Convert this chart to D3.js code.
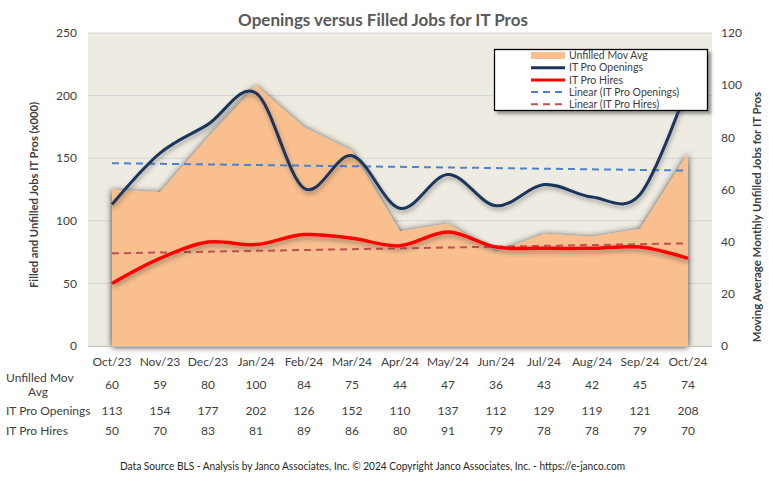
<!DOCTYPE html>
<html><head><meta charset="utf-8">
<script src="https://cdn.jsdelivr.net/npm/d3@7"></script>
<style>
html,body{margin:0;padding:0;background:#fff;}
text{font-family:Lato,"Open Sans",sans-serif;}
</style></head>
<body><svg id="c" width="769" height="480"></svg>
<script>
const categories = ["Oct/23","Nov/23","Dec/23","Jan/24","Feb/24","Mar/24","Apr/24","May/24","Jun/24","Jul/24","Aug/24","Sep/24","Oct/24"];
const unfilledMovAvg = [60,59,80,100,84,75,44,47,36,43,42,45,74];
const itProOpenings = [113,154,177,202,126,152,110,137,112,129,119,121,208];
const itProHires = [50,70,83,81,89,86,80,91,79,78,78,79,70];
const leftTicks = [0,50,100,150,200,250];
const rightTicks = [0,20,40,60,80,100,120];
const title = "Openings versus Filled Jobs for IT Pros";
const footer = "Data Source BLS - Analysis by Janco Associates, Inc. \u00A9 2024 Copyright Janco Associates, Inc. - https://e-janco.com";

const svg = d3.select("#c");
const M = {l:88, r:712, t:33, b:346};
const defs = svg.append("defs");
const f1 = defs.append("filter").attr("id","sh").attr("x","-10%").attr("y","-10%").attr("width","120%").attr("height","120%");
f1.append("feDropShadow").attr("dx",0).attr("dy",1).attr("stdDeviation",3).attr("flood-color","#202020").attr("flood-opacity",0.95);
const f2 = defs.append("filter").attr("id","shl").attr("x","-10%").attr("y","-30%").attr("width","120%").attr("height","160%");
f2.append("feDropShadow").attr("dx",1).attr("dy",3).attr("stdDeviation",2).attr("flood-color","#404040").attr("flood-opacity",0.45);
const f3 = defs.append("filter").attr("id","shb").attr("x","-10%").attr("y","-10%").attr("width","130%").attr("height","130%");
f3.append("feDropShadow").attr("dx",3).attr("dy",3).attr("stdDeviation",1.5).attr("flood-color","#404040").attr("flood-opacity",0.5);

const x = d3.scaleBand().domain(categories).range([M.l, M.r]);
const cx = c => x(c) + x.bandwidth()/2;
const yL = d3.scaleLinear().domain([0,250]).range([M.b, M.t]);
const yR = d3.scaleLinear().domain([0,120]).range([M.b, M.t]);

// plot background
svg.append("rect").attr("x",M.l).attr("y",M.t).attr("width",M.r-M.l).attr("height",M.b-M.t).attr("fill","#EEECE2");
// grid
svg.append("g").selectAll("line").data(leftTicks.filter(d=>d>0)).join("line")
  .attr("x1",M.l).attr("x2",M.r).attr("y1",d=>yL(d)).attr("y2",d=>yL(d))
  .attr("stroke","#D4D4DA").attr("stroke-width",1);

// area (right axis)
const area = d3.area().x((d,i)=>cx(categories[i])).y0(yR(0)).y1(d=>yR(d));
svg.append("path").datum(unfilledMovAvg).attr("d",area).attr("fill","#F9BF8E").attr("filter","url(#sh)");

// baseline
svg.append("line").attr("x1",M.l).attr("x2",M.r).attr("y1",M.b+0.5).attr("y2",M.b+0.5).attr("stroke","#BFBFBF");

// trend lines
function linreg(vals){
  const xs=vals.map((v,i)=>i+1);
  const mx=d3.mean(xs), my=d3.mean(vals);
  const b=d3.sum(xs.map((xx,i)=>(xx-mx)*(vals[i]-my)))/d3.sum(xs.map(xx=>(xx-mx)**2));
  const a=my-b*mx;
  return xs.map(xx=>a+b*xx);
}
const tO = linreg(itProOpenings), tH = linreg(itProHires);
const seg = d3.line().x((d,i)=>i?cx(categories[categories.length-1]):cx(categories[0])).y(d=>yL(d));
svg.append("path").datum([tO[0],tO[tO.length-1]]).attr("d",seg)
  .attr("fill","none").attr("stroke","#4F81C9").attr("stroke-width",2).attr("stroke-dasharray","7,5");
svg.append("path").datum([tH[0],tH[tH.length-1]]).attr("d",seg)
  .attr("fill","none").attr("stroke","#C0504D").attr("stroke-width",2).attr("stroke-dasharray","7,5");

// smooth lines
const smooth = d3.line().x((d,i)=>cx(categories[i])).y(d=>yL(d)).curve(d3.curveCardinal.tension(0));
svg.append("path").datum(itProOpenings).attr("d",smooth).attr("fill","none").attr("stroke","#1B365D").attr("stroke-width",3).attr("filter","url(#shl)");
svg.append("path").datum(itProHires).attr("d",smooth).attr("fill","none").attr("stroke","#FF0000").attr("stroke-width",3.5).attr("filter","url(#shl)");

// axes labels
const tc = "#404040";
svg.append("g").selectAll("text").data(leftTicks).join("text")
  .attr("x",77).attr("y",d=>yL(d)).attr("dy","0.35em").attr("text-anchor","end")
  .attr("font-size",12).attr("fill",tc).text(d=>d);
svg.append("g").selectAll("text").data(rightTicks).join("text")
  .attr("x",721).attr("y",d=>yR(d)).attr("dy","0.35em").attr("text-anchor","start")
  .attr("font-size",12).attr("fill",tc).text(d=>d);
svg.append("g").selectAll("text").data(categories).join("text")
  .attr("x",d=>cx(d)).attr("y",362).attr("dy","0.35em").attr("text-anchor","middle")
  .attr("font-size",12).attr("fill",tc).text(d=>d);

// axis titles
svg.append("text").attr("transform","translate(38,195) rotate(-90)").attr("text-anchor","middle")
  .attr("font-size",11.2).attr("font-weight","bold").attr("fill",tc).text("Filled and Unfilled Jobs IT Pros (x000)");
svg.append("text").attr("transform","translate(761,217) rotate(-90)").attr("text-anchor","middle")
  .attr("font-size",11.4).attr("font-weight","bold").attr("fill",tc).text("Moving Average Monthly Unfilled Jobs for IT Pros");

// title
svg.append("text").attr("x",383).attr("y",20).attr("dy","0.35em").attr("text-anchor","middle")
  .attr("font-size",17).attr("font-weight","bold").attr("fill","#595959").text(title);

// data table
const rows = [
  {vals:unfilledMovAvg, y:385},
  {vals:itProOpenings, y:411},
  {vals:itProHires, y:431}
];
rows.forEach(r=>{
  svg.append("g").selectAll("text").data(r.vals).join("text")
    .attr("x",(d,i)=>cx(categories[i])).attr("y",r.y).attr("dy","0.35em").attr("text-anchor","middle")
    .attr("font-size",12).attr("fill",tc).text(d=>d);
});
svg.append("text").attr("x",6).attr("y",378).attr("dy","0.35em").attr("font-size",12).attr("fill",tc).text("Unfilled Mov");
svg.append("text").attr("x",38).attr("y",392).attr("dy","0.35em").attr("text-anchor","middle").attr("font-size",12).attr("fill",tc).text("Avg");
svg.append("text").attr("x",6).attr("y",411).attr("dy","0.35em").attr("font-size",12).attr("fill",tc).text("IT Pro Openings");
svg.append("text").attr("x",6).attr("y",431).attr("dy","0.35em").attr("font-size",12).attr("fill",tc).text("IT Pro Hires");

// footer
svg.append("text").attr("x",120).attr("y",466).attr("dy","0.35em").attr("font-size",10.5).attr("fill","#262626")
  .attr("textLength",505).attr("lengthAdjust","spacingAndGlyphs").text(footer);

// legend
const lg = svg.append("g");
lg.append("rect").attr("x",494.5).attr("y",49.5).attr("width",213).attr("height",61).attr("fill","#fff").attr("stroke","#000").attr("stroke-width",1.3).attr("filter","url(#shb)");
const legendItems = [
  {label:"Unfilled Mov Avg", type:"area", color:"#F9BF8E"},
  {label:"IT Pro Openings", type:"line", color:"#1B365D"},
  {label:"IT Pro Hires", type:"line", color:"#FF0000"},
  {label:"Linear (IT Pro Openings)", type:"dash", color:"#4F81C9"},
  {label:"Linear (IT Pro Hires)", type:"dash", color:"#C0504D"}
];
legendItems.forEach((it,i)=>{
  const yy = 55.5 + i*12.2;
  if(it.type==="area") lg.append("rect").attr("x",531).attr("y",yy-3.5).attr("width",34).attr("height",7).attr("fill",it.color);
  else lg.append("line").attr("x1",531).attr("x2",565).attr("y1",yy).attr("y2",yy).attr("stroke",it.color)
    .attr("stroke-width",it.type==="line"?3:2).attr("stroke-dasharray",it.type==="dash"?"7,5":null);
  lg.append("text").attr("x",569).attr("y",yy).attr("dy","0.35em").attr("font-size",10.5).attr("fill",tc).text(it.label);
});
</script></body></html>
